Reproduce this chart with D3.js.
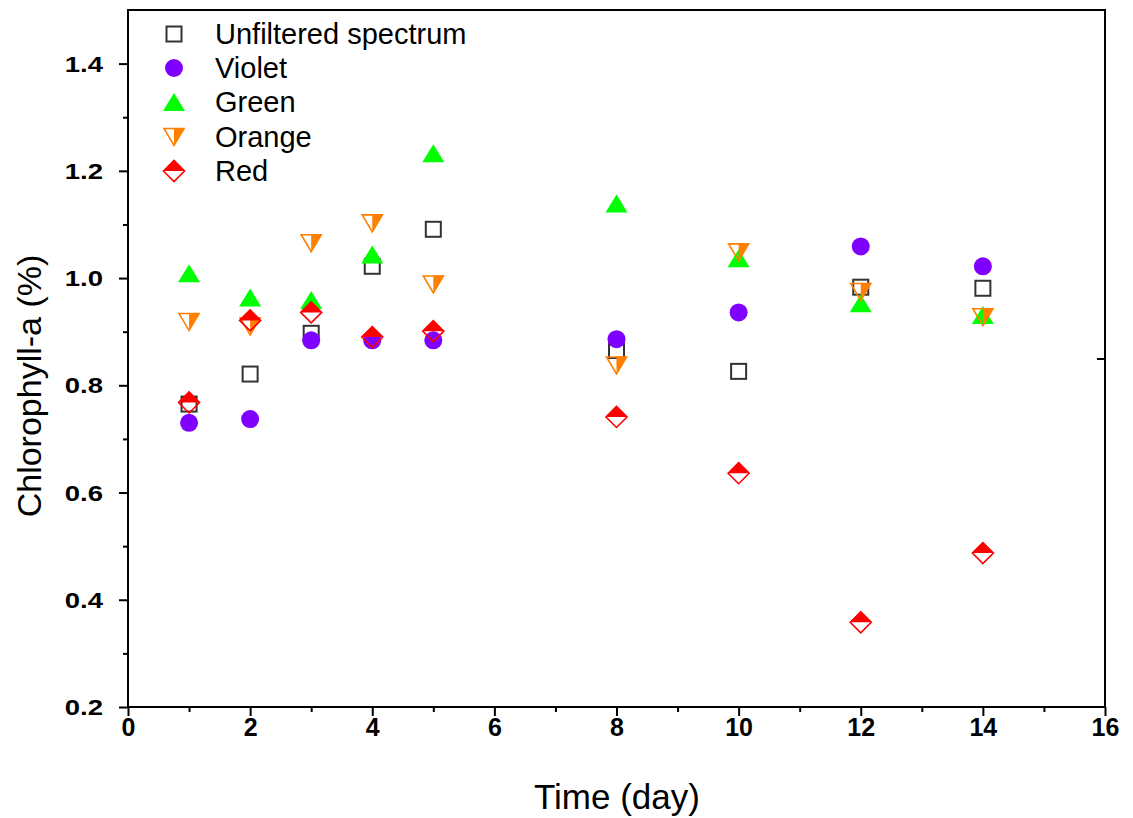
<!DOCTYPE html>
<html><head><meta charset="utf-8">
<script src="https://cdn.jsdelivr.net/npm/d3@7"></script>
<style>body{margin:0;background:#fff}svg{display:block}</style>
</head><body>
<script>
const days = [1, 2, 3, 4, 5, 8, 10, 12, 14];
const unfiltered = [0.765, 0.821, 0.897, 1.022, 1.091, 0.865, 0.826, 0.983, 0.981];
const violet = [0.730, 0.737, 0.884, 0.884, 0.884, 0.886, 0.936, 1.059, 1.022];
const green = [1.009, 0.964, 0.959, 1.044, 1.233, 1.139, 1.037, 0.953, 0.931];
const orange = [0.918, 0.910, 1.065, 1.102, 0.988, 0.837, 1.048, 0.974, 0.927];
const red = [0.768, 0.921, 0.936, 0.890, 0.901, 0.741, 0.636, 0.358, 0.487];
const seriesNames = ["Unfiltered spectrum", "Violet", "Green", "Orange", "Red"];
const xTicks = [0, 2, 4, 6, 8, 10, 12, 14, 16];
const yTicks = [0.2, 0.4, 0.6, 0.8, 1.0, 1.2, 1.4];

const W = 1133, H = 818;
const m = {l: 128, r: 1105, t: 10, b: 707};
const svg = d3.select("body").append("svg").attr("width", W).attr("height", H);
const x = d3.scaleLinear().domain([0, 16]).range([m.l, m.r]);
const y = d3.scaleLinear().domain([0.2, 1.5]).range([m.b, m.t]);

// frame
svg.append("rect").attr("x", m.l).attr("y", m.t).attr("width", m.r - m.l).attr("height", m.b - m.t)
  .attr("fill", "none").attr("stroke", "#000").attr("stroke-width", 2);
// right stray tick
svg.append("line").attr("x1", m.r - 8).attr("x2", m.r).attr("y1", 359).attr("y2", 359)
  .attr("stroke", "#000").attr("stroke-width", 2);

// x axis
const xa = svg.append("g").attr("transform", `translate(0,${m.b})`)
  .call(d3.axisBottom(x).tickValues(xTicks).tickSize(9).tickSizeOuter(0).tickFormat(d3.format("d")));
xa.append("g").call(d3.axisBottom(x).tickValues(d3.range(1, 16, 2)).tickSize(5).tickFormat(""));
xa.selectAll("path.domain").remove();
xa.selectAll("line").attr("stroke", "#000").attr("stroke-width", 2);
xa.selectAll("text").attr("font-family", "'Liberation Sans Narrow','Liberation Sans',Arial,sans-serif")
  .attr("font-weight", "bold").attr("font-size", 25).attr("fill", "#000").attr("y", 29).attr("dy", 0);

// y axis
const ya = svg.append("g").attr("transform", `translate(${m.l},0)`)
  .call(d3.axisLeft(y).tickValues(yTicks).tickSize(9).tickSizeOuter(0).tickFormat(d3.format(".1f")));
ya.append("g").call(d3.axisLeft(y).tickValues([0.3, 0.5, 0.7, 0.9, 1.1, 1.3]).tickSize(5).tickFormat(""));
ya.selectAll("path.domain").remove();
ya.selectAll("line").attr("stroke", "#000").attr("stroke-width", 2);
ya.selectAll("text").attr("font-family", "'Liberation Sans',Arial,sans-serif")
  .attr("font-weight", "bold").attr("font-size", 22).attr("fill", "#000")
  .attr("x", -20).attr("dy", "0.34em").attr("transform", "scale(1.25,1)");

// titles
svg.append("text").attr("x", 617).attr("y", 809).attr("text-anchor", "middle")
  .attr("font-family", "'Liberation Sans',Arial,sans-serif").attr("font-size", 35).text("Time (day)");
svg.append("text").attr("transform", "translate(41,386) rotate(-90)").attr("text-anchor", "middle")
  .attr("font-family", "'Liberation Sans',Arial,sans-serif").attr("font-size", 34).text("Chlorophyll-a (%)");

// marker drawers
function drawSquare(g) {
  g.append("rect").attr("x", -7.5).attr("y", -7.5).attr("width", 15).attr("height", 15)
    .attr("fill", "none").attr("stroke", "#333").attr("stroke-width", 2);
}
function drawCircle(g) {
  g.append("circle").attr("r", 9).attr("fill", "#7F00FF");
}
function drawUp(g) {
  g.append("path").attr("d", "M0,-9 L11,9 L-11,9 Z").attr("fill", "#00FF00");
}
function drawDown(g) {
  g.append("path").attr("d", "M0,9 L0,-9 L11,-9 Z").attr("fill", "#FF8000");
  g.append("path").attr("d", "M-10,-8.5 L10,-8.5 L0,8.5 Z").attr("fill", "none").attr("stroke", "#FF8000").attr("stroke-width", 1.6);
}
function drawDiamond(g) {
  g.append("path").attr("d", "M-11,0 L0,-11 L11,0 Z").attr("fill", "#FF0000");
  g.append("path").attr("d", "M-10.5,0 L0,-10.5 L10.5,0 L0,10.5 Z").attr("fill", "none").attr("stroke", "#FF0000").attr("stroke-width", 1.6);
}
const series = [
  {vals: unfiltered, draw: drawSquare},
  {vals: violet, draw: drawCircle},
  {vals: green, draw: drawUp},
  {vals: orange, draw: drawDown},
  {vals: red, draw: drawDiamond}
];
series.forEach(s => {
  days.forEach((d, i) => {
    const g = svg.append("g").attr("transform", `translate(${x(d)},${y(s.vals[i])})`);
    s.draw(g);
  });
});

// legend
const legY = [34, 68, 102, 137, 171];
seriesNames.forEach((n, i) => {
  const g = svg.append("g").attr("transform", `translate(174,${legY[i]})`);
  series[i].draw(g);
  svg.append("text").attr("x", 215).attr("y", legY[i]).attr("dy", "0.36em")
    .attr("font-family", "'Liberation Sans',Arial,sans-serif").attr("font-size", 29).text(n);
});
</script>
</body></html>
